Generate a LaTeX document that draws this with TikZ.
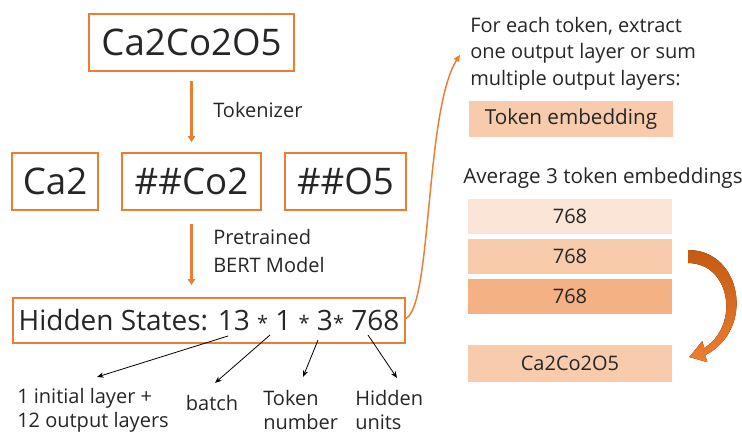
\documentclass[tikz,border=0pt]{standalone}
\usepackage{fontspec}
\setmainfont{Open Sans}
\usepackage{xcolor}
\definecolor{lineOrange}{HTML}{ED7D31}
\definecolor{darkOrange}{HTML}{C55A11}
\definecolor{paleOrange}{HTML}{FBE5D6}
\definecolor{softOrange}{HTML}{F8CBAD}
\definecolor{midOrange}{HTML}{F4B183}
\definecolor{darkText}{HTML}{262626}
\usetikzlibrary{
    arrows.meta,
    positioning,
    calc
}
% small raised star between the dimensions
\newcommand{\dimstar}{\raisebox{0.5pt}{\fontsize{15}{15}\selectfont*}}
\tikzset{
    % Base style for all plain texts
    plain base/.style={
        font=\fontsize{15}{19}\selectfont,
        text=darkText,
        align=left,
        inner sep=0pt,
    },
    % Outlined boxes for the formula and its tokens
    token box/.style={
        draw=lineOrange,
        line width=1.4pt,
        font=\fontsize{27.5}{30}\selectfont,
        text=darkText,
        minimum height=42.75pt,
        inner sep=0pt,
    },
    % Filled bars for the embeddings
    embed bar/.style={
        minimum width=153pt,
        minimum height=26.25pt,
        inner sep=0pt,
        font=\fontsize{15}{17}\selectfont,
        text=darkText,
    },
    % Thick orange arrows between the steps
    flow arrow/.style={
        -{Triangle[length=4.5pt, width=5.5pt]},
        line width=2.2pt,
        draw=lineOrange,
    },
    % Thin orange curve up to the extraction note
    curve arrow/.style={
        -{Triangle[length=5pt, width=4.5pt]},
        line width=1.1pt,
        draw=lineOrange,
    },
    % Thin pointers from each dimension to its label
    pointer/.style={
        -{Stealth[length=5pt, width=4pt]},
        line width=0.6pt,
        draw=black,
    },
    % Fat bent arrow for the averaging
    bend arrow/.style={
        top color=darkOrange,
        bottom color=lineOrange,
        draw=none,
    },
}

\begin{document}
\begin{tikzpicture}[x=0.75pt, y=-0.75pt]
    \useasboundingbox (0,0) rectangle (742,433);

    % formula, tokens and hidden states
    \node (formula) [token box, minimum width=153.75pt] at (191.5,42.5) {Ca2Co2O5};
    \node (ca) [token box, minimum width=64.5pt] at (55,181.5) {Ca2};
    \node (co) [token box, minimum width=104.25pt] at (191.5,181.5) {\#\#Co2};
    \node (o) [token box, minimum width=90.75pt] at (345.5,181.5) {\#\#O5};
    \node (hidden) [token box, minimum width=294pt, minimum height=33.75pt,
        font=\fontsize{21}{24}\selectfont] at (209,320.5)
        {Hidden States: 13 \dimstar{} 1 \dimstar{} 3\dimstar{} 768};

    \node (tokenizer) [plain base, anchor=west] at (213,110) {Tokenizer};
    \node (bert) [plain base, anchor=west, font=\fontsize{15}{21}\selectfont] at (213,251) {Pretrained\\BERT Model};

    \draw [flow arrow, shorten <=6.75pt, shorten >=7.5pt] (formula.south) -- (co.north);
    \draw [flow arrow, shorten <=9.75pt, shorten >=9pt] (co.south) -- (co.south |- hidden.north);

    % what each dimension means
    \node (layers) [plain base, anchor=west, font=\fontsize{15}{18}\selectfont] at (17,410) {1 initial layer +\\12 output layers};
    \node (batch) [plain base] at (212,403) {batch};
    \node (tokennum) [plain base, anchor=west, font=\fontsize{15}{18}\selectfont] at (263,410) {Token\\number};
    \node (units) [plain base, anchor=west, font=\fontsize{15}{18}\selectfont] at (355,410) {Hidden\\units};

    \coordinate (dimLayers) at (228,336);
    \coordinate (dimBatch) at (270,335);
    \coordinate (dimToken) at (318,340);
    \coordinate (dimUnits) at (368,335);
    \coordinate (toLayers) at (97,377);
    \coordinate (toBatch) at (215,383);
    \coordinate (toToken) at (303,377);
    \coordinate (toUnits) at (397,378);

    \draw [pointer] (dimLayers) -- (toLayers);
    \draw [pointer] (dimBatch) -- (toBatch);
    \draw [pointer] (dimToken) -- (toToken);
    \draw [pointer] (dimUnits) -- (toUnits);

    % right column: embeddings
    \node (extract) [plain base, anchor=west, font=\fontsize{15}{20}\selectfont] at (470,53.5)
        {For each token, extract\\one output layer or sum\\multiple output layers:};
    \node (embedding) [embed bar, fill=softOrange, minimum height=27pt, font=\fontsize{15.5}{17}\selectfont] at (571,119) {Token embedding};
    \node (average) [plain base, anchor=west, font=\fontsize{15.5}{19}\selectfont] at (463,178) {Average 3 token embeddings};
    \node (tok1) [embed bar, fill=paleOrange] at (570,216.5) {768};
    \node (tok2) [embed bar, fill=softOrange, below=3.4pt of tok1] {768};
    \node (tok3) [embed bar, fill=midOrange, below=3pt of tok2] {768};
    \node (result) [embed bar, fill=softOrange, minimum height=27.75pt] at (570,363.5) {Ca2Co2O5};

    \draw [curve arrow] ([yshift=1.5pt]hidden.east) .. controls (432,305) and (425,110) .. ([xshift=-7.5pt, yshift=-1pt]extract.west);

    % averaging arrow, drawn from the middle bar
    \begin{scope}[shift={(tok2.east)}]
        \fill [bend arrow] (16,-6.5) .. controls (70,-6.5) and (83,73.5) .. (33,98.5)
            -- (35,105.5) -- (17,100.5) -- (30,84.5) -- (32,91.5)
            .. controls (68,68.5) and (58,6.5) .. (16,6.5) -- cycle;
    \end{scope}
\end{tikzpicture}
\end{document}
